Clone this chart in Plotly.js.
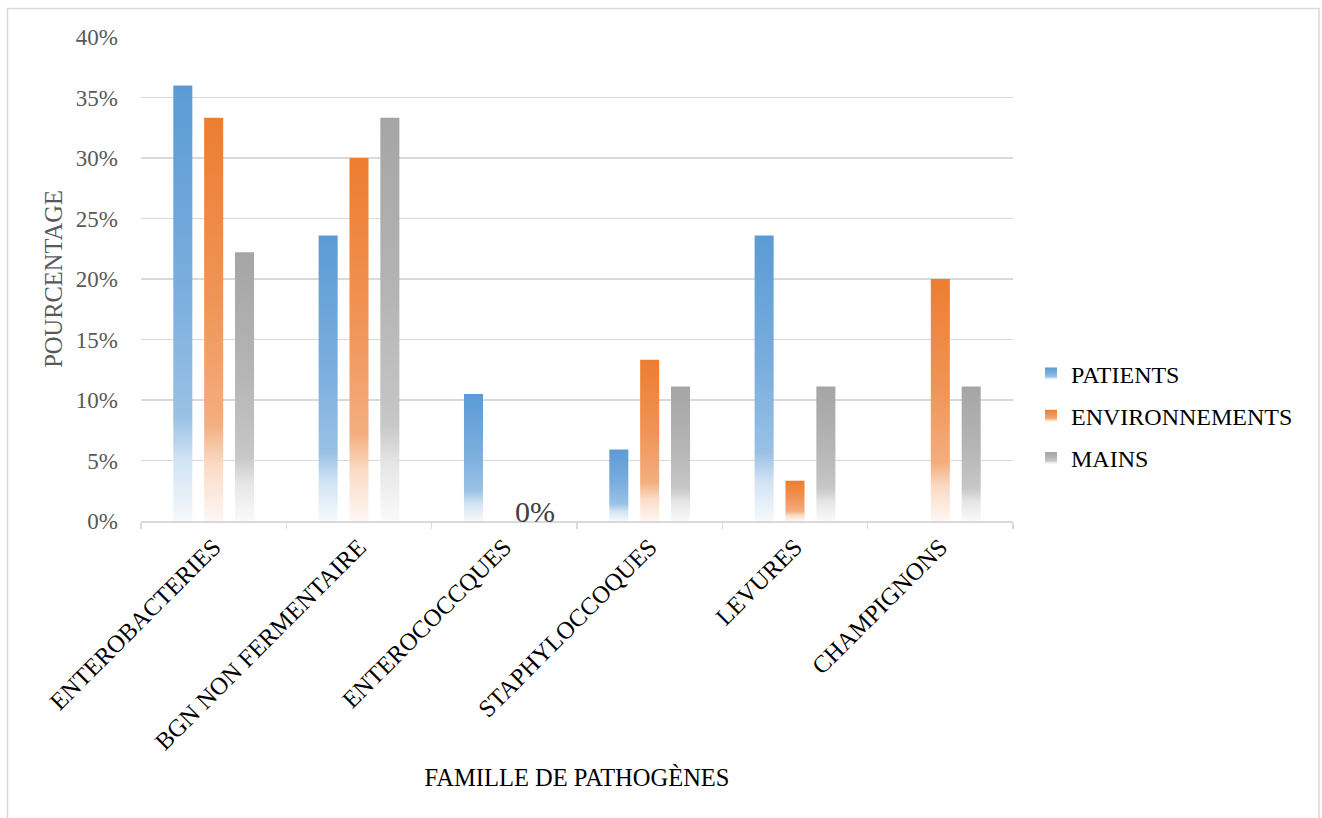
<!DOCTYPE html>
<html>
<head>
<meta charset="utf-8">
<script src="https://cdn.plot.ly/plotly-3.0.1.min.js"></script>
<style>
  html, body { margin: 0; padding: 0; background: #ffffff; }
  #chart { width: 1322px; height: 818px; }
</style>
</head>
<body>
<div id="chart"></div>
<script>
// Pathogen families and the share of isolates found in each source
const categories = ['ENTEROBACTERIES', 'BGN NON FERMENTAIRE', 'ENTEROCOCCQUES', 'STAPHYLOCCOQUES', 'LEVURES', 'CHAMPIGNONS'];
const seriesNames = ['PATIENTS', 'ENVIRONNEMENTS', 'MAINS'];
const patients = [0.36, 0.236, 0.105, 0.059, 0.236, 0];
const environnements = [0.3333, 0.30, 0, 0.1333, 0.0333, 0.20];
const mains = [0.2222, 0.3333, 0, 0.1111, 0.1111, 0.1111];
// Which MAINS points carry a value label
const mainsLabelShown = [false, false, true, false, false, false];

const colors = ['#5B9BD5', '#ED7D31', '#A5A5A5'];
const FONT = 'Liberation Serif, Times New Roman, Times, serif';

const W = 1322, H = 818;
const M = { l: 141, r: 309, t: 37, b: 297 };
const plotW = W - M.l - M.r, plotH = H - M.t - M.b;
const px2x = p => (p - M.l) / plotW;
const px2y = p => (H - M.b - p) / plotH;

const BARGAP = 0.363, BARGROUPGAP = 0.383;
const pct = v => Math.round(v * 100) + '%';
const values = [patients, environnements, mains];

const data = values.map((vals, i) => ({
  type: 'bar',
  name: seriesNames[i],
  x: categories,
  y: vals,
  legendgroup: 'g' + i,
  marker: { color: colors[i], line: { width: 0 } },
  hoverinfo: 'skip'
}));

// Value labels for the MAINS series, placed over that series' slot in each group
const slotPx = (plotW / categories.length) * (1 - BARGAP) / values.length;
const annotations = categories
  .map((c, k) => mainsLabelShown[k] ? {
    x: c, y: mains[k], xref: 'x', yref: 'y',
    text: pct(mains[k]), showarrow: false,
    xshift: slotPx, yshift: 10, yanchor: 'middle', xanchor: 'center',
    font: { family: FONT, size: 30, color: '#404040' }
  } : null)
  .filter(Boolean);

const layout = {
  width: W, height: H,
  margin: M,
  paper_bgcolor: '#ffffff',
  plot_bgcolor: '#ffffff',
  barmode: 'group',
  bargap: BARGAP,
  bargroupgap: BARGROUPGAP,
  hovermode: false,
  font: { family: FONT, size: 24, color: '#000000' },
  xaxis: {
    type: 'category',
    tickangle: -45,
    tickson: 'boundaries',
    ticks: 'outside',
    ticklen: 6,
    tickwidth: 1.5,
    tickcolor: '#D9D9D9',
    showline: true,
    linecolor: '#D9D9D9',
    linewidth: 2,
    showgrid: false,
    zeroline: false,
    tickfont: { family: FONT, size: 24.5, color: '#000000' },
    title: { text: 'FAMILLE DE PATHOGÈNES', font: { family: FONT, size: 24.5, color: '#000000' }, standoff: 15 },
    automargin: false
  },
  yaxis: {
    range: [0, 0.4],
    dtick: 0.05,
    tickformat: '.0%',
    showgrid: true,
    gridcolor: '#D9D9D9',
    gridwidth: 1.5,
    zeroline: false,
    showline: false,
    ticks: '',
    ticklabelstandoff: 22,
    tickfont: { family: FONT, size: 23, color: '#595959' },
    title: { text: 'POURCENTAGE', font: { family: FONT, size: 24.5, color: '#595959' }, standoff: 6 },
    automargin: false
  },
  legend: {
    x: px2x(1031), xanchor: 'left',
    y: px2y(416), yanchor: 'middle',
    font: { family: FONT, size: 24, color: '#000000' },
    bgcolor: 'rgba(0,0,0,0)',
    tracegroupgap: 8
  },
  showlegend: true,
  annotations: annotations,
  shapes: [{
    type: 'rect', xref: 'paper', yref: 'paper',
    x0: px2x(7.5), x1: px2x(1319), y0: px2y(840), y1: px2y(8.5),
    line: { color: '#D9D9D9', width: 1.5 },
    fillcolor: 'rgba(0,0,0,0)',
    layer: 'below'
  }]
};

// Vertical fade from the series colour at the top to near-white at the base
const fadeStops = [[0, 0], [0.45, 0.18], [0.76, 0.38], [0.86, 0.72], [1, 0.94]];
function tint(hex, t) {
  const n = parseInt(hex.slice(1), 16);
  const c = [(n >> 16) & 255, (n >> 8) & 255, n & 255].map(v => Math.round(v + (255 - v) * t));
  return 'rgb(' + c.join(',') + ')';
}

function ensureGradients(gd) {
  const svg = gd.querySelector('.main-svg');
  if (!svg) return;
  let defs = svg.querySelector('defs');
  if (!defs) {
    defs = document.createElementNS('http://www.w3.org/2000/svg', 'defs');
    svg.insertBefore(defs, svg.firstChild);
  }
  colors.forEach((col, i) => {
    const id = 'barfade' + i;
    if (svg.querySelector('#' + id)) return;
    const g = document.createElementNS('http://www.w3.org/2000/svg', 'linearGradient');
    g.setAttribute('id', id);
    g.setAttribute('x1', '0'); g.setAttribute('y1', '0');
    g.setAttribute('x2', '0'); g.setAttribute('y2', '1');
    fadeStops.forEach(([off, t]) => {
      const s = document.createElementNS('http://www.w3.org/2000/svg', 'stop');
      s.setAttribute('offset', off);
      s.setAttribute('stop-color', tint(col, t));
      g.appendChild(s);
    });
    defs.appendChild(g);
  });
}

function traceIndex(el, fallback) {
  const d = el.__data__;
  if (d && d[0] && d[0].trace) return d[0].trace.index;
  if (d && d[0] && d[0][0] && d[0][0].trace) return d[0][0].trace.index;
  return fallback;
}

function paint(gd) {
  ensureGradients(gd);
  gd.querySelectorAll('.barlayer .trace').forEach((t, i) => {
    const k = traceIndex(t, i);
    t.querySelectorAll('.point path').forEach(p => p.style.setProperty('fill', 'url(#barfade' + k + ')'));
  });
  gd.querySelectorAll('.legend .traces').forEach((t, i) => {
    const k = traceIndex(t, i);
    t.querySelectorAll('.legendpoints path').forEach(p => p.style.setProperty('fill', 'url(#barfade' + k + ')'));
  });
}

const gd = document.getElementById('chart');
Plotly.newPlot(gd, data, layout, { staticPlot: true, displayModeBar: false }).then(() => {
  paint(gd);
  gd.on('plotly_afterplot', () => paint(gd));
});
</script>
</body>
</html>
